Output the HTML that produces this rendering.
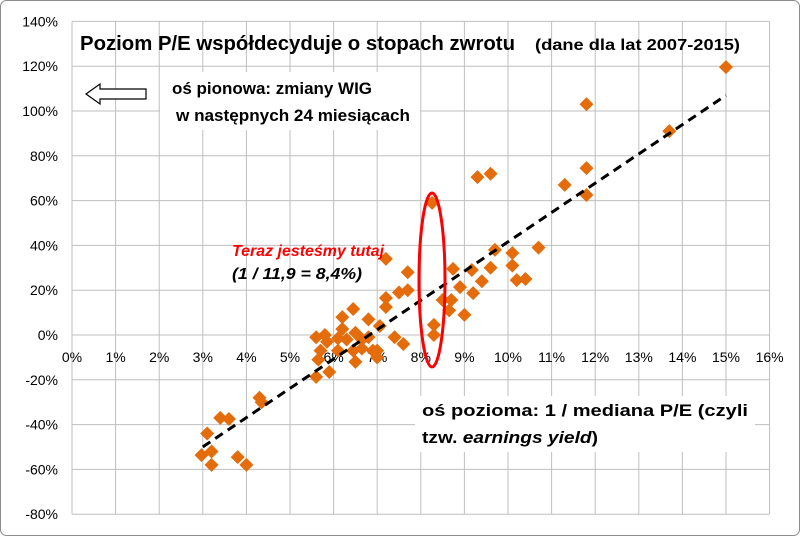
<!DOCTYPE html>
<html><head><meta charset="utf-8"><style>
body{margin:0;background:#fff}
svg text{font-family:"Liberation Sans",sans-serif}
</style></head><body>
<svg id="c" width="800" height="536" xmlns="http://www.w3.org/2000/svg">
<rect x="0.5" y="0.5" width="799" height="535" rx="6" fill="#fff" stroke="#8c8c8c"/>
<g id="grid"></g>
<g id="labels"></g>
<g id="pts"></g>
<g id="trend"></g>
<rect x="160" y="72" width="260" height="58" fill="#fff"/>
<polygon points="86,94 100,84 100,89 146,89 146,99 100,99 100,104" fill="#fff" stroke="#000" stroke-width="1.2"/>
<text x="172" y="94" font-size="17" font-weight="bold" textLength="200" lengthAdjust="spacingAndGlyphs">oś pionowa: zmiany WIG</text>
<text x="176" y="121" font-size="17" font-weight="bold" textLength="234" lengthAdjust="spacingAndGlyphs">w następnych 24 miesiącach</text>
<text x="80" y="50" font-size="20" font-weight="bold" textLength="435" lengthAdjust="spacingAndGlyphs">Poziom P/E współdecyduje o stopach zwrotu</text>
<text x="535" y="50" font-size="16" font-weight="bold" textLength="205" lengthAdjust="spacingAndGlyphs">(dane dla lat 2007-2015)</text>
<text x="232" y="256" font-size="16" font-weight="bold" font-style="italic" fill="#ff0000" textLength="152" lengthAdjust="spacingAndGlyphs">Teraz jesteśmy tutaj</text>
<text x="232" y="279" font-size="16" font-weight="bold" font-style="italic" textLength="130" lengthAdjust="spacingAndGlyphs">(1 / 11,9 = 8,4%)</text>
<rect x="415" y="396" width="340" height="56" fill="#fff"/>
<text x="422" y="416" font-size="17" font-weight="bold" textLength="326" lengthAdjust="spacingAndGlyphs">oś pozioma: 1 / mediana P/E (czyli</text>
<text x="422" y="443" font-size="17" font-weight="bold" textLength="176" lengthAdjust="spacingAndGlyphs">tzw. <tspan font-style="italic">earnings yield</tspan>)</text>
<ellipse cx="432" cy="280" rx="13" ry="87" fill="none" stroke="#ff0000" stroke-width="3"/>
</svg>
<script>
const xTicks=[0,1,2,3,4,5,6,7,8,9,10,11,12,13,14,15,16];
const yTicks=[140,120,100,80,60,40,20,0,-20,-40,-60,-80];
const xVals=[15.0,11.8,13.7,9.6,9.3,11.3,11.8,11.8,8.26,10.7,9.7,10.1,10.1,7.2,7.7,8.74,9.17,9.6,7.5,7.7,7.2,7.2,8.9,9.4,9.2,8.5,8.7,8.65,9.0,6.45,6.2,6.8,8.3,8.3,7.06,7.4,7.6,5.6,5.8,5.85,6.1,6.2,6.3,6.5,6.65,6.8,6.9,6.65,6.45,6.1,5.7,5.65,6.5,5.9,5.6,7.0,7.0,10.2,10.4,4.3,4.35,3.4,3.6,3.1,2.97,3.2,3.2,3.8,4.0];
const yVals=[119.6,103,91,72,70.5,67,74.5,62.5,59,39,38,36.6,31,34,28,29.5,29,30,19,20,16.5,12.5,21.4,24,18.7,15.6,15.6,11,9,11.6,8,7,4.5,0,4,-1,-4,-1,0,-3,-1.5,2.7,-2,1,-2,-1,-7,-6,-7,-7,-7,-11,-12,-16.5,-18.7,-7,-10,24.5,25,-28,-30,-37,-37.5,-44,-53.6,-52,-58,-54.5,-58];
const trendSlope=13.08, trendIntercept=-89.2, trendRange=[3.0,15.0];
const X=v=>72+v*43.6, Y=v=>335-v*2.24;
const NS='http://www.w3.org/2000/svg';
function mk(t,a,p){const e=document.createElementNS(NS,t);for(const k in a)e.setAttribute(k,a[k]);p.appendChild(e);return e;}
const g=document.getElementById('grid'),L=document.getElementById('labels'),P=document.getElementById('pts'),T=document.getElementById('trend');
yTicks.forEach(v=>{const l=mk('line',{x1:X(0),x2:X(16),y1:Y(v),y2:Y(v),stroke:'#bfbfbf','stroke-width':1},g);


const t=mk('text',{x:58,y:Y(v)+5,'text-anchor':'end','font-size':14},L);t.textContent=v+'%';

});
xTicks.forEach(v=>{const l=mk('line',{x1:X(v),x2:X(v),y1:Y(140),y2:Y(-80),stroke:'#bfbfbf','stroke-width':1},g);


const t=mk('text',{x:X(v),y:Y(0)+27,'text-anchor':'middle','font-size':14},L);t.textContent=v+'%';

});
xVals.forEach((x,i)=>{const cx=X(x),cy=Y(yVals[i]),r=7;
const d=mk('polygon',{points:`${cx},${cy-r} ${cx+r},${cy} ${cx},${cy+r} ${cx-r},${cy}`,fill:'#e46c0a'},P);

});
const tl=mk('line',{x1:X(trendRange[0]),y1:Y(trendSlope*trendRange[0]+trendIntercept),x2:X(trendRange[1]),y2:Y(trendSlope*trendRange[1]+trendIntercept),stroke:'#000','stroke-width':3,'stroke-dasharray':'9,6'},T);


</script>
</body></html>
